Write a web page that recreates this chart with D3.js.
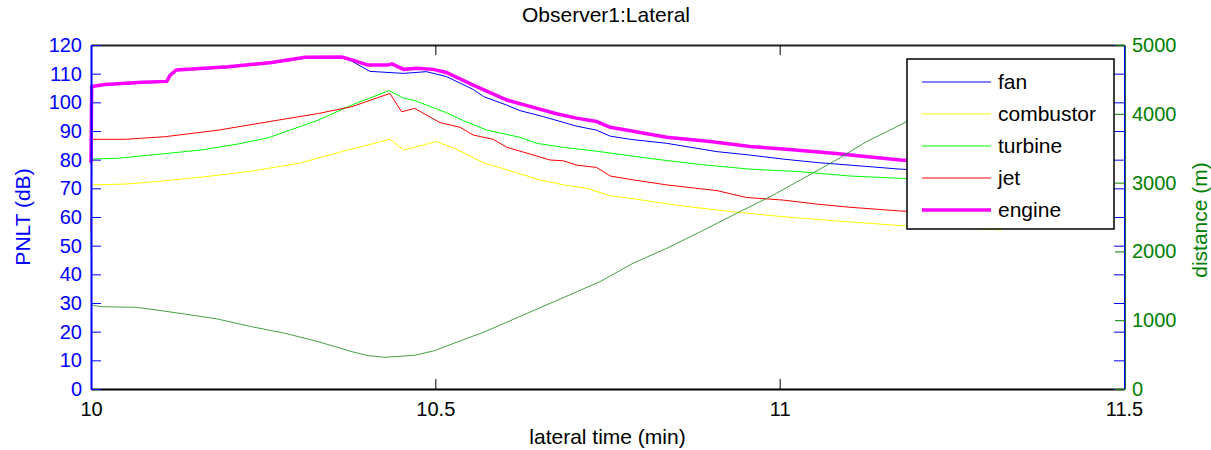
<!DOCTYPE html>
<html>
<head>
<meta charset="utf-8">
<script src="https://cdnjs.cloudflare.com/ajax/libs/d3/7.8.5/d3.min.js"></script>
<style>
  body { margin: 0; background: #fff; }
  svg text { font-family: "Liberation Sans", Arial, sans-serif; }
</style>
</head>
<body>
<div id="chart"></div>
<script>

// time (min) / value pairs
var fanData = [
  [10.000, 78], [10.001, 105.3], [10.020, 105.9], [10.074, 106.7], [10.110, 107.0],
  [10.115, 109.2], [10.124, 111.0], [10.199, 112.1], [10.262, 113.6], [10.311, 115.4],
  [10.364, 115.5], [10.379, 114.3], [10.405, 110.8], [10.454, 110.1], [10.487, 110.7],
  [10.516, 109.0], [10.555, 104.5], [10.570, 102.0], [10.604, 99.0], [10.623, 97.1],
  [10.657, 95.0], [10.705, 91.7], [10.734, 90.3], [10.754, 88.2], [10.783, 87.1],
  [10.836, 85.7], [10.909, 82.8], [10.957, 81.6], [11.005, 80.2], [11.054, 79.0],
  [11.102, 78.1], [11.175, 76.7], [11.323, 75.0]
];

var combustorData = [
  [10.000, 70], [10.001, 71.2], [10.050, 71.5], [10.093, 72.3], [10.175, 74.3],
  [10.233, 76.0], [10.301, 78.7], [10.369, 83.1], [10.434, 87.1], [10.454, 83.4],
  [10.502, 86.3], [10.531, 83.6], [10.570, 78.9], [10.613, 75.8], [10.652, 72.9],
  [10.686, 71.2], [10.720, 70.0], [10.754, 67.4], [10.783, 66.5], [10.860, 63.8],
  [10.933, 61.8], [11.005, 60.1], [11.078, 58.7], [11.175, 57.0], [11.323, 55.5]
];

var turbineData = [
  [10.000, 48], [10.001, 80.2], [10.040, 80.5], [10.103, 82.0], [10.161, 83.4],
  [10.214, 85.5], [10.257, 87.6], [10.330, 93.8], [10.379, 99.1], [10.433, 104.1],
  [10.454, 101.4], [10.468, 100.8], [10.516, 96.4], [10.541, 93.6], [10.575, 90.3],
  [10.623, 87.8], [10.647, 85.7], [10.686, 84.3], [10.739, 82.8], [10.812, 80.4],
  [10.885, 78.3], [10.957, 76.7], [11.030, 75.8], [11.102, 74.3], [11.175, 73.5],
  [11.323, 72.0]
];

var jetData = [
  [10.000, 55], [10.001, 87.1], [10.049, 87.1], [10.107, 88.0], [10.185, 90.3],
  [10.257, 93.2], [10.330, 96.1], [10.379, 98.5], [10.434, 103.1], [10.451, 96.7],
  [10.470, 97.9], [10.507, 92.9], [10.536, 91.3], [10.555, 88.6], [10.584, 87.1],
  [10.604, 84.3], [10.647, 81.3], [10.666, 79.9], [10.686, 79.6], [10.705, 78.1],
  [10.734, 77.3], [10.754, 74.3], [10.783, 73.1], [10.836, 71.2], [10.909, 69.2],
  [10.952, 66.8], [11.005, 65.9], [11.054, 64.5], [11.102, 63.4], [11.175, 62.1],
  [11.323, 60.5]
];

var engineData = [
  [10.000, 79], [10.001, 105.5], [10.020, 106.2], [10.074, 107.0], [10.110, 107.3],
  [10.115, 109.5], [10.124, 111.3], [10.199, 112.4], [10.262, 113.9], [10.311, 115.7],
  [10.364, 115.8], [10.379, 114.8], [10.402, 113.0], [10.431, 113.0], [10.437, 113.4],
  [10.454, 111.5], [10.473, 111.9], [10.497, 111.5], [10.516, 110.4], [10.555, 106.0],
  [10.604, 100.8], [10.637, 98.6], [10.676, 96.0], [10.705, 94.5], [10.734, 93.3],
  [10.754, 91.3], [10.783, 90.1], [10.836, 87.8], [10.899, 86.3], [10.957, 84.6],
  [11.005, 83.7], [11.078, 82.2], [11.175, 79.9], [11.247, 78.8], [11.323, 77.8]
];

// observer distance, right axis (m)
var distanceData = [
  [10.000, 1221], [10.016, 1196], [10.066, 1187], [10.095, 1148], [10.136, 1090],
  [10.184, 1017], [10.233, 906], [10.282, 809], [10.330, 688], [10.379, 542],
  [10.403, 484], [10.427, 461], [10.470, 490], [10.499, 557], [10.533, 688],
  [10.572, 833], [10.739, 1560], [10.787, 1827], [10.836, 2045], [10.885, 2286],
  [10.942, 2577], [10.991, 2820], [11.030, 3038], [11.078, 3304], [11.126, 3594],
  [11.175, 3837], [11.323, 4650]
];

var xTicks = [10, 10.5, 11, 11.5];
var leftTicks = [0, 10, 20, 30, 40, 50, 60, 70, 80, 90, 100, 110, 120];
var rightTicks = [0, 1000, 2000, 3000, 4000, 5000];

var seriesNames = ["fan", "combustor", "turbine", "jet", "engine"];
var seriesData = [fanData, combustorData, turbineData, jetData, engineData];
var seriesColors = ["#0000ff", "#ffff00", "#00ff00", "#ff0000", "#ff00ff"];
var seriesWidths = [1, 1, 1, 1, 3.5];

var width = 1211, height = 450;
var margin = {top: 45, right: 87, bottom: 61, left: 91};
var innerW = width - margin.left - margin.right;
var innerH = height - margin.top - margin.bottom;

var svg = d3.select("#chart").append("svg")
    .attr("width", width)
    .attr("height", height);

var g = svg.append("g")
    .attr("transform", "translate(" + margin.left + "," + margin.top + ")");

var x = d3.scaleLinear().domain([10, 11.5]).range([0, innerW]);
var yL = d3.scaleLinear().domain([0, 120]).range([innerH, 0]);
var yR = d3.scaleLinear().domain([0, 5000]).range([innerH, 0]);

var tickLen = 10;

// curves first, axes on top
var lineL = d3.line().x(function(d) { return x(d[0]); }).y(function(d) { return yL(d[1]); });
var lineR = d3.line().x(function(d) { return x(d[0]); }).y(function(d) { return yR(d[1]); });

seriesData.forEach(function(data, i) {
  g.append("path")
      .datum(data)
      .attr("fill", "none")
      .attr("stroke", seriesColors[i])
      .attr("stroke-width", seriesWidths[i])
      .attr("d", lineL);
});

g.append("path")
    .datum(distanceData)
    .attr("fill", "none")
    .attr("stroke", "#2f962f")
    .attr("stroke-width", 0.9)
    .attr("d", lineR);

// x axis bottom (ticks pointing in) + mirrored ticks on top
var xAxis = g.append("g")
    .attr("transform", "translate(0," + innerH + ")")
    .call(d3.axisBottom(x).tickValues(xTicks).tickSizeInner(-tickLen).tickSizeOuter(0).tickPadding(13)
      .tickFormat(function(d) { return String(d); }));
xAxis.select(".domain").attr("stroke", "#000").attr("stroke-width", 2);
xAxis.selectAll("text").attr("font-size", 20).attr("fill", "#000")
    .attr("font-family", "Liberation Sans, Arial, sans-serif");

var xTop = g.append("g")
    .call(d3.axisTop(x).tickValues(xTicks).tickSizeInner(-tickLen).tickSizeOuter(0).tickFormat(""));
xTop.select(".domain").attr("stroke", "#222").attr("stroke-width", 2);

// left axis, blue
var yAxisL = g.append("g")
    .call(d3.axisLeft(yL).tickValues(leftTicks).tickSizeInner(-tickLen).tickSizeOuter(0).tickPadding(9));
yAxisL.select(".domain").attr("stroke", "#0000ff").attr("stroke-width", 2);
yAxisL.selectAll("line").attr("stroke", "#0000ff");
yAxisL.selectAll("text").attr("font-size", 20).attr("fill", "#0000ff")
    .attr("font-family", "Liberation Sans, Arial, sans-serif");

// blue ticks also mirrored on the right edge
g.append("g")
    .attr("transform", "translate(" + innerW + ",0)")
    .call(d3.axisRight(yL).tickValues(leftTicks).tickSizeInner(-tickLen).tickSizeOuter(0).tickFormat(""))
  .call(function(s) {
    s.select(".domain").attr("stroke", "#0000ff").attr("stroke-width", 1);
    s.selectAll("line").attr("stroke", "#0000ff");
  });

// right axis, green
var yAxisR = g.append("g")
    .attr("transform", "translate(" + (innerW + 1) + ",0)")
    .call(d3.axisRight(yR).tickValues(rightTicks).tickSizeInner(-tickLen).tickSizeOuter(0).tickPadding(7)
      .tickFormat(d3.format("d")));
yAxisR.select(".domain").attr("stroke", "#1d6b3a").attr("stroke-width", 1);
yAxisR.selectAll("line").attr("stroke", "#008000");
yAxisR.selectAll("text").attr("font-size", 20).attr("fill", "#008000")
    .attr("font-family", "Liberation Sans, Arial, sans-serif");

// labels
svg.append("text")
    .attr("x", 606).attr("y", 22)
    .attr("text-anchor", "middle")
    .attr("font-size", 21)
    .text("Observer1:Lateral");

svg.append("text")
    .attr("x", margin.left + innerW / 2).attr("y", 444)
    .attr("text-anchor", "middle")
    .attr("font-size", 21)
    .text("lateral time (min)");

svg.append("text")
    .attr("transform", "translate(30," + (margin.top + innerH / 2) + ") rotate(-90)")
    .attr("text-anchor", "middle")
    .attr("font-size", 21)
    .attr("fill", "#0000ff")
    .text("PNLT (dB)");

svg.append("text")
    .attr("transform", "translate(1207," + (margin.top + innerH / 2 + 3) + ") rotate(-90)")
    .attr("text-anchor", "middle")
    .attr("font-size", 21)
    .attr("fill", "#008000")
    .text("distance (m)");

// legend box
var legend = svg.append("g").attr("transform", "translate(907,59)");
legend.append("rect")
    .attr("width", 207).attr("height", 170)
    .attr("fill", "#fff")
    .attr("stroke", "#000")
    .attr("stroke-width", 1.5);

seriesNames.forEach(function(name, i) {
  var yy = 23 + i * 32;
  legend.append("line")
      .attr("x1", 15).attr("x2", 84)
      .attr("y1", yy).attr("y2", yy)
      .attr("stroke", seriesColors[i])
      .attr("stroke-width", seriesWidths[i]);
  legend.append("text")
      .attr("x", 91).attr("y", yy + 7)
      .attr("font-size", 21)
      .text(name);
});

</script>
</body>
</html>
